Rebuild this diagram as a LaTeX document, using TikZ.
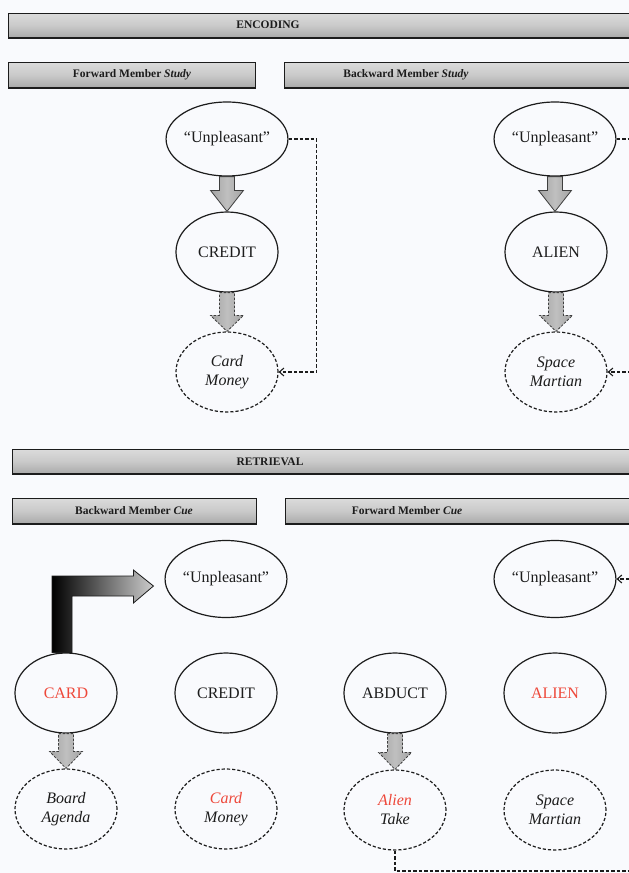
\documentclass[tikz,border=0pt]{standalone}
\usepackage{fontspec}
\setmainfont{Liberation Serif}
\usetikzlibrary{shapes.geometric,arrows.meta,calc}

\definecolor{bgpaper}{RGB}{249,250,253}
\definecolor{cuered}{RGB}{238,72,58}
\definecolor{inkc}{RGB}{28,28,28}

\tikzset{
  word/.style={ellipse, draw=inkc, line width=1.2pt, inner sep=0pt,
    minimum width=102pt, minimum height=80pt, align=center, text=inkc,
    font=\fontsize{16}{19}\selectfont},
  assoc/.style={word, dash pattern=on 3.2pt off 2pt,
    font=\fontsize{16}{19}\selectfont\itshape},
  barbox/.style={draw=inkc, line width=0.9pt, top color=gray!28, bottom color=gray!68,
    middle color=gray!42},
  barshadow/.style={draw=inkc, line width=1.8pt},
  bartext/.style={font=\fontsize{11.5}{13}\selectfont\bfseries, text=inkc, inner sep=0pt},
  blockfill/.style={draw=inkc!85, line width=0.8pt, left color=gray!72,
    right color=gray!72, middle color=gray!50},
  blockdash/.style={blockfill, dash pattern=on 2.5pt off 1.5pt},
  bentfill/.style={draw=inkc, line width=0.8pt, left color=black, right color=gray!40},
  dashlink/.style={draw=inkc, line width=1.1pt, dash pattern=on 3.5pt off 2pt},
  tipin/.style={-{Straight Barb[length=4.5pt,width=8pt,line width=1.1pt]}}
}

% downward block arrow from the bottom of one node to the top of another
% #1 extra style, #2 source node, #3 target node, #4 head length
\newcommand\downblock[4][]{%
  \path[blockfill,#1] let \p1=(#2.south), \p2=(#3.north) in
    (\x1-7.5pt,\y1) -- (\x1+7.5pt,\y1) -- (\x1+7.5pt,\y2+#4) -- (\x1+16.5pt,\y2+#4)
    -- (\x1,\y2) -- (\x1-16.5pt,\y2+#4) -- (\x1-7.5pt,\y2+#4) -- cycle;}

\begin{document}
\begin{tikzpicture}[x=1pt, y=-1pt]
  \useasboundingbox (0,0) rectangle (629,873);
  \clip (0,0) rectangle (629,873);
  \fill[bgpaper] (0,0) rectangle (629,873);

  % ---------- section and column headers ----------
  \foreach \xa/\ya/\xb/\yb in {8/13/660/38, 8/62/255/88, 284/62/660/88,
                               12/449/660/474, 12/498/256/524, 285/498/660/524} {
    \path[barbox] (\xa,\ya) rectangle (\xb,\yb);
    \draw[barshadow] (\xa,\yb) -- (\xb,\yb);
  }
  \node[bartext] (hEnc) at (268,25) {ENCODING};
  \node[bartext] (hFws) at (132,75) {Forward Member \textit{Study}};
  \node[bartext] (hBws) at (406,75) {Backward Member \textit{Study}};
  \node[bartext] (hRet) at (270,462) {RETRIEVAL};
  \node[bartext] (hBwc) at (134,511) {Backward Member \textit{Cue}};
  \node[bartext] (hFwc) at (407,511) {Forward Member \textit{Cue}};

  % ---------- encoding: forward member study ----------
  \node[word, minimum height=74pt] (u1) at (227,139) {“Unpleasant”};
  \node[word] (c1) at (227,252) {CREDIT};
  \node[assoc] (m1) at (227,372) {Card\\Money};
  \downblock{u1}{c1}{21pt}
  \downblock[blockdash]{c1}{m1}{16pt}
  \draw[dashlink, tipin] (u1.east) -- ++(28,0) |- (m1.east);

  % ---------- encoding: backward member study ----------
  \node[word, minimum height=74pt] (u2) at (555,139) {“Unpleasant”};
  \node[word] (a2) at (556,252) {ALIEN};
  \node[assoc] (s2) at (556,372) {Space\\Martian};
  \coordinate (e1) at ($(u2.east)+(40,0)$);
  \coordinate (e2) at ($(s2.east)+(40,0)$);
  \downblock{u2}{a2}{21pt}
  \downblock[blockdash]{a2}{s2}{16pt}
  \draw[dashlink] (u2.east) -- (e1);
  \draw[dashlink, tipin] (e2) -- (s2.east);

  % ---------- retrieval: backward member cue ----------
  \node[word, minimum height=77pt] (u3) at (226,579) {“Unpleasant”};
  \node[word, text=cuered] (card) at (66,693) {CARD};
  \node[word] (c3) at (226,693) {CREDIT};
  \node[assoc] (b3) at (66,809) {Board\\Agenda};
  \node[assoc] (m3) at (226,809) {\textcolor{cuered}{Card}\\Money};
  \downblock[blockdash]{card}{b3}{17pt}
  \path[bentfill] let \p1=(card.north), \p2=(u3.west) in
    (\x1-14pt,\y1) -- (\x1-14pt,\y2+3pt) -- (\x2-31pt,\y2+3pt) -- (\x2-31pt,\y2+9pt)
    -- (\x2-11pt,\y2-7pt) -- (\x2-31pt,\y2-24pt) -- (\x2-31pt,\y2-17pt)
    -- (\x1+6pt,\y2-17pt) -- (\x1+6pt,\y1) -- cycle;

  % ---------- retrieval: forward member cue ----------
  \node[word, minimum height=77pt] (u4) at (555,579) {“Unpleasant”};
  \node[word] (ab) at (395,693) {ABDUCT};
  \node[word, text=cuered] (al) at (555,693) {ALIEN};
  \node[assoc] (at4) at (395,810) {\textcolor{cuered}{Alien}\\Take};
  \node[assoc] (s4) at (555,810) {Space\\Martian};
  \coordinate (e3) at ($(u4.east)+(40,0)$);
  \coordinate (e4) at (660,871);
  \downblock[blockdash]{ab}{at4}{17pt}
  \draw[dashlink, tipin] (e3) -- (u4.east);
  \draw[dashlink] (at4.south) |- (e4);
\end{tikzpicture}
\end{document}
